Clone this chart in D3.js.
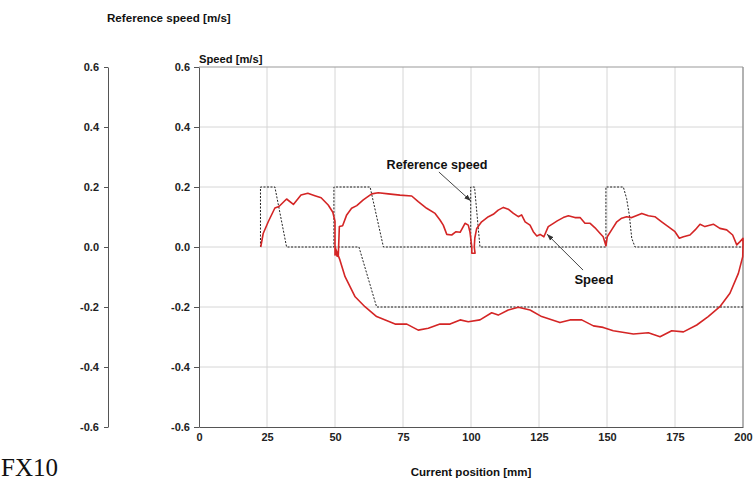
<!DOCTYPE html>
<html>
<head>
<meta charset="utf-8">
<script src="https://cdn.jsdelivr.net/npm/d3@7"></script>
<style>
  html, body { margin: 0; padding: 0; background: #fff; }
  svg { display: block; }
  text { font-family: "Liberation Sans", Arial, sans-serif; }
</style>
</head>
<body>
<svg id="chart" width="755" height="489"></svg>
<script>
// Position ticks [mm] and speed ticks [m/s]
const xTicks = [0, 25, 50, 75, 100, 125, 150, 175, 200];
const yTicks = [-0.6, -0.4, -0.2, 0.0, 0.2, 0.4, 0.6];

// Reference speed, forward pass (position mm, speed m/s)
const refFwdPos = [22.6, 22.6, 27.9, 32.2, 49.6, 49.6, 62.9, 67.8, 99.9, 99.9, 101.3, 103.3, 149.6, 149.6, 156.0, 157.2, 158.2, 159.1, 160.3, 200];
const refFwdVal = [0, 0.2, 0.2, 0, 0, 0.2, 0.2, 0, 0, 0.2, 0.2, 0, 0, 0.2, 0.2, 0.162, 0.107, 0.029, 0, 0];

// Reference speed, return pass
const refRetPos = [200, 65.3, 58.8, 50];
const refRetVal = [-0.2, -0.2, 0, 0];

// Measured speed along the travel (forward to 200 mm, then back to 50 mm)
const speedPos = [22.7, 23.6, 25.5, 27.9, 29.4, 32.2, 34.7, 37.5, 40.0, 42.6, 44.9, 47.5, 49.2, 50.0,
  50.0, 50.4, 50.7, 51.2, 51.6, 52.8, 54.3, 56.1, 58.0, 60.4, 63.5, 65.9, 69.6, 73.9, 78.2, 80.6,
  83.7, 86.8, 88.6, 89.8, 91.1, 92.9, 94.5, 96.0, 97.8, 99.0, 99.6, 100.3, 100.3, 101.5, 101.2,
  101.4, 102.1, 103.9, 106.4, 108.2, 110.0, 111.9, 113.7, 115.6, 117.4, 118.6, 119.9, 121.7, 122.9,
  124.2, 125.4, 126.8, 128.4, 130.3, 131.7, 133.9, 135.8, 138.2, 140.1, 141.9, 143.8, 145.6, 147.4,
  148.6, 149.6, 150.1, 151.7, 153.6, 155.4, 157.2, 159.1, 162.8, 165.2, 167.6, 170.1, 172.5, 175.0,
  176.6, 178.1, 180.5, 182.4, 184.2, 186.0, 189.1, 191.5, 194.0, 196.2, 197.7, 198.9, 200.0,
  200.0, 199.9, 198.3, 195.2, 191.5, 187.2, 183.0, 178.1, 173.8, 169.5, 165.2, 159.7, 152.3, 148.6,
  145.0, 140.7, 136.4, 132.7, 126.0, 121.7, 117.4, 113.7, 110.0, 107.6, 103.3, 99.0, 96.0, 92.3,
  88.6, 84.3, 80.6, 76.4, 72.1, 65.3, 61.0, 57.4, 53.7, 51.8, 50.0];
const speedVal = [0, 0.045, 0.085, 0.13, 0.135, 0.16, 0.142, 0.173, 0.179, 0.171, 0.164, 0.14, 0.116, 0.085,
  -0.027, -0.01, -0.03, -0.032, 0.068, 0.071, 0.107, 0.129, 0.138, 0.157, 0.177, 0.181, 0.177, 0.173, 0.17, 0.151,
  0.129, 0.112, 0.09, 0.073, 0.042, 0.04, 0.051, 0.049, 0.079, 0.073, 0.051, 0, -0.021, -0.021, 0.0,
  0.03, 0.062, 0.084, 0.101, 0.109, 0.123, 0.132, 0.126, 0.112, 0.101, 0.107, 0.084, 0.073, 0.051,
  0.037, 0.042, 0.034, 0.068, 0.079, 0.087, 0.098, 0.104, 0.098, 0.098, 0.079, 0.079, 0.064, 0.046,
  0.034, 0.004, 0.034, 0.057, 0.084, 0.096, 0.101, 0.098, 0.112, 0.104, 0.101, 0.084, 0.068, 0.051,
  0.029, 0.034, 0.04, 0.057, 0.076, 0.068, 0.076, 0.062, 0.057, 0.04, 0.007, 0.018, 0.029,
  0.007, -0.032, -0.088, -0.154, -0.199, -0.232, -0.26, -0.283, -0.279, -0.299, -0.286, -0.29, -0.279, -0.268,
  -0.263, -0.243, -0.243, -0.252, -0.232, -0.21, -0.201, -0.21, -0.227, -0.219, -0.243, -0.249, -0.243, -0.257,
  -0.257, -0.271, -0.277, -0.257, -0.257, -0.232, -0.199, -0.166, -0.099, -0.043, 0];

const svg = d3.select("#chart");

const x = d3.scaleLinear().domain([0, 200]).range([199, 743]);
const y = d3.scaleLinear().domain([-0.6, 0.6]).range([427, 67]);
const fmt = d => d.toFixed(1);

// grid
const grid = svg.append("g");
grid.selectAll("line.v").data(xTicks.slice(1, -1)).join("line")
  .attr("x1", d => x(d)).attr("x2", d => x(d))
  .attr("y1", y(0.6)).attr("y2", y(-0.6))
  .attr("stroke", "#d6d6d6").attr("stroke-width", 1);
grid.selectAll("line.h").data(yTicks.slice(1)).join("line")
  .attr("x1", x(0)).attr("x2", x(200))
  .attr("y1", d => y(d)).attr("y2", d => y(d))
  .attr("stroke", d => d === 0.6 ? "#999" : "#d6d6d6").attr("stroke-width", 1);
// right border
svg.append("line")
  .attr("x1", x(200)).attr("x2", x(200)).attr("y1", y(0.6)).attr("y2", y(-0.6))
  .attr("stroke", "#999").attr("stroke-width", 1.5);

// axes
function styleAxis(g) {
  g.selectAll("path.domain").attr("stroke", "#555");
  g.selectAll(".tick line").attr("stroke", "#555");
  g.selectAll("text").attr("fill", "#222").style("font-size", "11px").style("font-weight", "bold");
}
svg.append("g").attr("transform", "translate(108,0)")
  .call(d3.axisLeft(y).tickValues(yTicks).tickFormat(fmt).tickSize(4).tickSizeOuter(0).tickPadding(5))
  .call(styleAxis);
svg.append("g").attr("transform", `translate(${x(0)},0)`)
  .call(d3.axisLeft(y).tickValues(yTicks).tickFormat(fmt).tickSize(5).tickSizeOuter(0).tickPadding(4))
  .call(styleAxis);
svg.append("g").attr("transform", `translate(0,${y(-0.6)})`)
  .call(d3.axisBottom(x).tickValues(xTicks).tickSize(0).tickSizeOuter(0).tickPadding(6))
  .call(styleAxis);

// series
const line = d3.line().x(d => x(d[0])).y(d => y(d[1]));
const zip = (a, b) => a.map((v, i) => [v, b[i]]);

[zip(refFwdPos, refFwdVal), zip(refRetPos, refRetVal)].forEach(pts => {
  svg.append("path").datum(pts).attr("d", line)
    .attr("fill", "none").attr("stroke", "#222").attr("stroke-width", 1)
    .attr("stroke-dasharray", "2,1.5");
});
svg.append("path").datum(zip(speedPos, speedVal)).attr("d", line)
  .attr("fill", "none").attr("stroke", "#d42525").attr("stroke-width", 1.6)
  .attr("stroke-linejoin", "round");

// annotations
svg.append("defs").append("marker")
  .attr("id", "arrow").attr("viewBox", "0 0 10 10").attr("refX", 10).attr("refY", 5)
  .attr("markerWidth", 7).attr("markerHeight", 7).attr("orient", "auto")
  .append("path").attr("d", "M0,1.5 L10,5 L0,8.5 Z").attr("fill", "#333");

function callout(label, size, tx, ty, fromX, fromY, toX, toY) {
  svg.append("line")
    .attr("x1", x(fromX)).attr("y1", y(fromY)).attr("x2", x(toX)).attr("y2", y(toY))
    .attr("stroke", "#444").attr("stroke-width", 1).attr("marker-end", "url(#arrow)");
  svg.append("text").attr("x", x(tx)).attr("y", y(ty))
    .attr("text-anchor", "middle").style("font-size", size).style("font-weight", "bold")
    .attr("fill", "#111").text(label);
}
callout("Reference speed", "12.6px", 87.5, 0.26, 88.2, 0.25, 100, 0.153);
callout("Speed", "13px", 145.2, -0.123, 141.2, -0.077, 127.9, 0.043);

// titles
svg.append("text").attr("x", 107).attr("y", 22)
  .style("font-size", "11.6px").style("font-weight", "bold").attr("fill", "#111")
  .text("Reference speed [m/s]");
svg.append("text").attr("x", 199).attr("y", 63)
  .style("font-size", "11.2px").style("font-weight", "bold").attr("fill", "#111")
  .text("Speed [m/s]");
svg.append("text").attr("x", x(100)).attr("y", 476).attr("text-anchor", "middle")
  .style("font-size", "11.5px").style("font-weight", "bold").attr("fill", "#111")
  .text("Current position [mm]");
svg.append("text").attr("x", 1).attr("y", 476)
  .style("font-family", "'Liberation Serif', 'Times New Roman', serif").style("font-size", "25px")
  .attr("fill", "#111").text("FX10");
</script>
</body>
</html>
